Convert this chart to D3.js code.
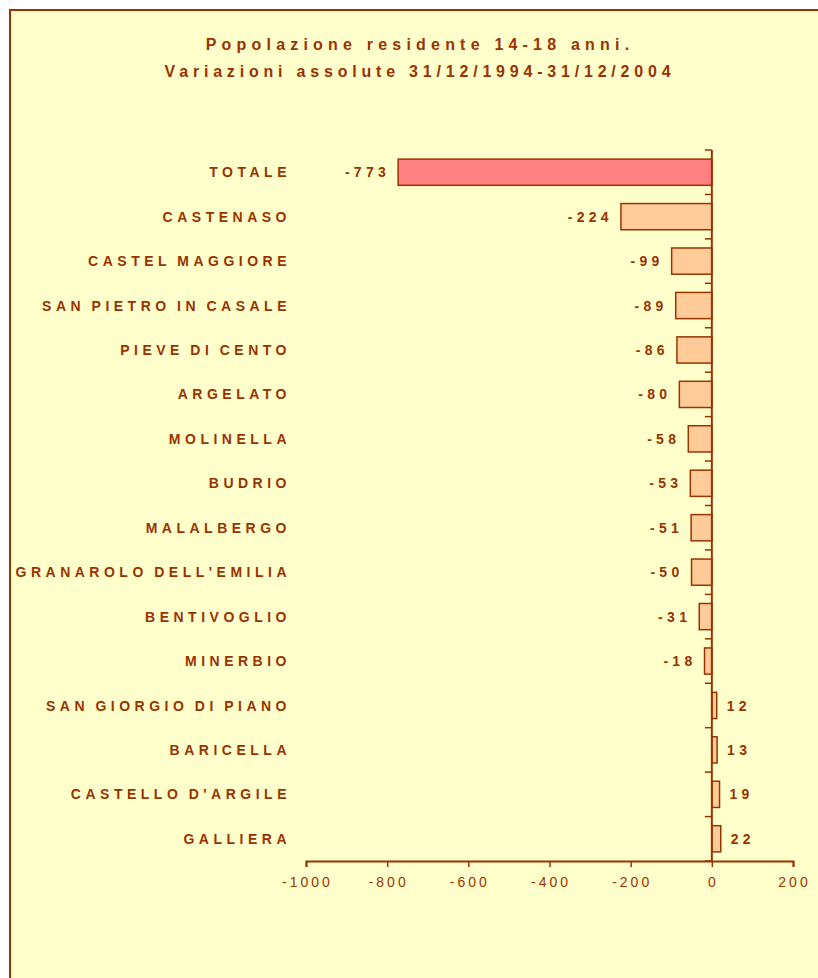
<!DOCTYPE html>
<html>
<head>
<meta charset="utf-8">
<script src="https://cdn.jsdelivr.net/npm/d3@7/dist/d3.min.js"></script>
<style>
  html, body { margin: 0; padding: 0; background: #ffffff; }
  svg { display: block; }
  text { font-family: Arial, "Liberation Sans", sans-serif; fill: #993300; }
</style>
</head>
<body>
<svg id="chart" width="818" height="978"></svg>
<script>
// Comuni (ordered as drawn, top to bottom)
const comuni = [
  "TOTALE", "CASTENASO", "CASTEL MAGGIORE", "SAN PIETRO IN CASALE",
  "PIEVE DI CENTO", "ARGELATO", "MOLINELLA", "BUDRIO", "MALALBERGO",
  "GRANAROLO DELL'EMILIA", "BENTIVOGLIO", "MINERBIO",
  "SAN GIORGIO DI PIANO", "BARICELLA", "CASTELLO D'ARGILE", "GALLIERA"
];
// Absolute change in residents aged 14-18, 31/12/1994 - 31/12/2004
const variazioni = [
  -773, -224, -99, -89, -86, -80, -58, -53, -51, -50, -31, -18, 12, 13, 19, 22
];
const xTicks = [-1000, -800, -600, -400, -200, 0, 200];
const titolo = [
  "Popolazione residente 14-18 anni.",
  "Variazioni assolute 31/12/1994-31/12/2004"
];

const ink = "#993300";
const svg = d3.select("#chart");

// Panel background with frame
svg.append("rect")
  .attr("x", 10).attr("y", 10)
  .attr("width", 830).attr("height", 1000)
  .attr("fill", "#FFFFCC")
  .attr("stroke", ink).attr("stroke-width", 2);

// Title
svg.append("g").selectAll("text").data(titolo).join("text")
  .attr("x", 420)
  .attr("y", (d, i) => 50 + i * 27)
  .attr("text-anchor", "middle")
  .attr("font-size", 16)
  .attr("font-weight", "bold")
  .attr("letter-spacing", (d, i) => i === 0 ? "5.2px" : "4.8px")
  .text(d => d);

const x = d3.scaleLinear().domain([-1000, 200]).range([306, 793]);
const y = d3.scaleBand().domain(comuni).range([150, 861]).paddingInner(0.41).paddingOuter(0.205);

// Bars
svg.append("g").selectAll("rect").data(comuni).join("rect")
  .attr("x", (d, i) => x(Math.min(0, variazioni[i])))
  .attr("y", d => y(d))
  .attr("width", (d, i) => Math.abs(x(variazioni[i]) - x(0)))
  .attr("height", y.bandwidth())
  .attr("fill", (d, i) => i === 0 ? "#FF8080" : "#FFCC99")
  .attr("stroke", ink).attr("stroke-width", 1.5);

// Value labels
svg.append("g").selectAll("text").data(comuni).join("text")
  .attr("x", (d, i) => variazioni[i] < 0 ? x(variazioni[i]) - 8 : x(variazioni[i]) + 10)
  .attr("y", d => y(d) + y.bandwidth() / 2)
  .attr("dy", "0.36em")
  .attr("text-anchor", (d, i) => variazioni[i] < 0 ? "end" : "start")
  .attr("font-size", 14)
  .attr("font-weight", "bold")
  .attr("letter-spacing", "4.3px")
  .text((d, i) => variazioni[i]);

// Category labels
svg.append("g").selectAll("text").data(comuni).join("text")
  .attr("x", 291)
  .attr("y", d => y(d) + y.bandwidth() / 2)
  .attr("dy", "0.36em")
  .attr("text-anchor", "end")
  .attr("font-size", 14)
  .attr("font-weight", "bold")
  .attr("letter-spacing", "4.5px")
  .attr("word-spacing", "-2px")
  .text(d => d);

// Category axis at zero, ticks at band boundaries
const bounds = d3.range(comuni.length + 1).map(i => 150 + i * (711 / comuni.length));
const yAxis = svg.append("g");
yAxis.append("line")
  .attr("x1", x(0)).attr("x2", x(0))
  .attr("y1", 150).attr("y2", 861)
  .attr("stroke", ink).attr("stroke-width", 2);
yAxis.selectAll("line.tk").data(bounds).join("line")
  .attr("class", "tk")
  .attr("x1", x(0) - 7).attr("x2", x(0))
  .attr("y1", d => d).attr("y2", d => d)
  .attr("stroke", ink).attr("stroke-width", 1.5);

// Value axis
const xAxis = svg.append("g").attr("transform", "translate(0,861)")
  .call(d3.axisBottom(x).tickValues(xTicks).tickSize(6).tickPadding(10).tickFormat(d3.format("d")));
xAxis.select(".domain").attr("stroke", ink).attr("stroke-width", 2);
xAxis.selectAll(".tick line").attr("stroke", ink).attr("stroke-width", 1.5);
xAxis.selectAll(".tick text")
  .attr("fill", ink)
  .attr("font-size", 14)
  .attr("font-family", "Arial, 'Liberation Sans', sans-serif")
  .attr("letter-spacing", "3px")
  .attr("dx", "1px")
  .text(d => d < 0 ? "-" + Math.abs(d) : d);
</script>
</body>
</html>
